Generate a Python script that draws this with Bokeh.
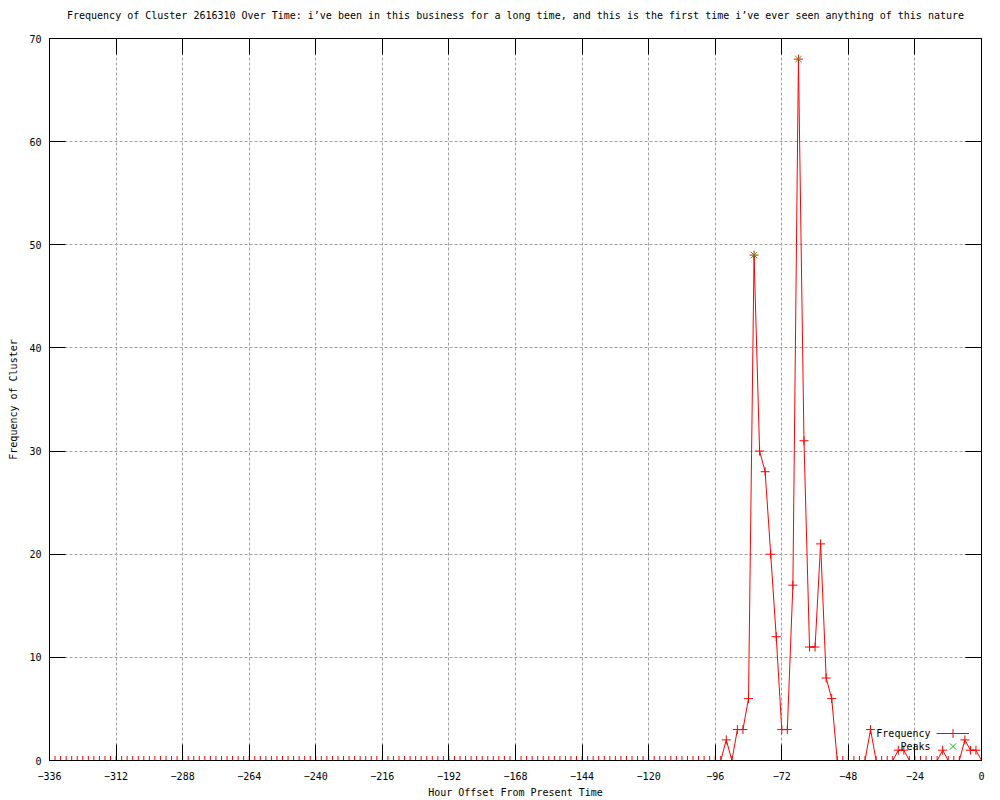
from bokeh.plotting import figure
from bokeh.models import (LinearAxis, FixedTicker, Range1d, Label, Legend, LegendItem,
                          CustomLabelingPolicy)
from bokeh.embed import file_html
from bokeh.resources import INLINE

# ---------------- data ----------------
hours = list(range(-336, 1, 2))
frequency = ([0] * 122 +
             [2, 0, 3, 3, 6, 49, 30, 28, 20, 12, 3, 3, 17, 68, 31, 11, 11, 21, 8, 6,
              0, 0, 0, 0, 0, 0, 3, 0, 0, 0, 0, 1, 1, 0,
              0, 0, 0, 0, 0, 1, 0, 0, 0, 2, 1, 1, 0])
peak_hours = [-82, -66]
peak_values = [49, 68]

x_ticks = [-336, -312, -288, -264, -240, -216, -192, -168, -144, -120, -96, -72, -48, -24, 0]
y_ticks = [0, 10, 20, 30, 40, 50, 60, 70]

title_text = ("Frequency of Cluster 2616310 Over Time: i\u2019ve been in this business for a long time, "
              "and this is the first time i\u2019ve ever seen anything of this nature")
x_label = "Hour Offset From Present Time"
y_label = "Frequency of Cluster"
legend_labels = ["Frequency", "Peaks"]

FONT = "DejaVu Sans Mono"
FS = "10px"

p = figure(width=1000, height=800, output_backend="svg", toolbar_location=None,
           x_range=Range1d(-336, 0), y_range=Range1d(0, 70),
           min_border_left=49, min_border_right=19, min_border_top=38, min_border_bottom=40)

p.title.text = title_text
p.title.text_font = FONT
p.title.text_font_size = FS
p.title.text_font_style = "normal"
p.title.align = "center"
p.title.text_color = "black"
p.title.standoff = 14

p.outline_line_color = "black"
p.outline_line_width = 1
p.background_fill_color = "white"
p.border_fill_color = "white"

hide_all = CustomLabelingPolicy(code="for (const i of indices) indices.unset(i)")

def style_axis(ax, ticks, show_labels=True):
    ax.ticker = FixedTicker(ticks=ticks)
    ax.major_tick_in = 16
    ax.major_tick_out = 0
    ax.minor_tick_in = 0
    ax.minor_tick_out = 0
    ax.major_tick_line_color = "black"
    ax.axis_line_color = "black"
    ax.major_label_text_font = FONT
    ax.major_label_text_font_size = FS
    ax.major_label_text_color = "black"
    ax.major_label_standoff = 8 if show_labels else 0
    if not show_labels:
        ax.major_label_policy = hide_all
    ax.axis_label_text_font = FONT
    ax.axis_label_text_font_size = FS
    ax.axis_label_text_font_style = "normal"
    ax.axis_label_text_color = "black"

xa = p.xaxis[0]
ya = p.yaxis[0]
style_axis(xa, x_ticks)
style_axis(ya, y_ticks)
xa.major_label_standoff = 11
xa.axis_label = x_label
xa.axis_label_standoff = 4
ya.axis_label = y_label
ya.axis_label_standoff = 7

top = LinearAxis()
style_axis(top, x_ticks, show_labels=False)
p.add_layout(top, "above")
right = LinearAxis()
style_axis(right, y_ticks, show_labels=False)
p.add_layout(right, "right")

for g, ticks in ((p.xgrid[0], x_ticks), (p.ygrid[0], y_ticks)):
    g.ticker = FixedTicker(ticks=ticks)
    g.grid_line_color = "#a0a0a0"
    g.grid_line_dash = "3 2"
    g.grid_line_width = 1

RED = "#ff0000"
GREEN = "#00c000"

line_r = p.line(hours, frequency, line_color=RED, line_width=1)
cross_r = p.scatter(hours, frequency, marker="cross", size=9, line_color=RED, line_width=1)
peak_r = p.scatter(peak_hours, peak_values, marker="x", size=9, line_color=GREEN, line_width=1)

for renderers, loc_y, txt, lab_y in (([line_r, cross_r], 16, legend_labels[0], 27),
                                      ([peak_r], 3, legend_labels[1], 14)):
    lg = Legend(items=[LegendItem(label=" ", renderers=renderers)],
                location=(887, loc_y), glyph_width=33, glyph_height=22, label_width=0,
                label_height=22, label_standoff=0, spacing=0, padding=0, margin=0,
                label_text_font_size="1px", label_text_alpha=0,
                border_line_alpha=0, background_fill_alpha=0)
    p.add_layout(lg, "center")
    p.add_layout(Label(x=881, y=lab_y, x_units="screen", y_units="screen", text=txt,
                       text_font=FONT, text_font_size=FS, text_align="right",
                       text_baseline="middle", text_color="black"))

open("out.html", "w").write(file_html(p, INLINE))
